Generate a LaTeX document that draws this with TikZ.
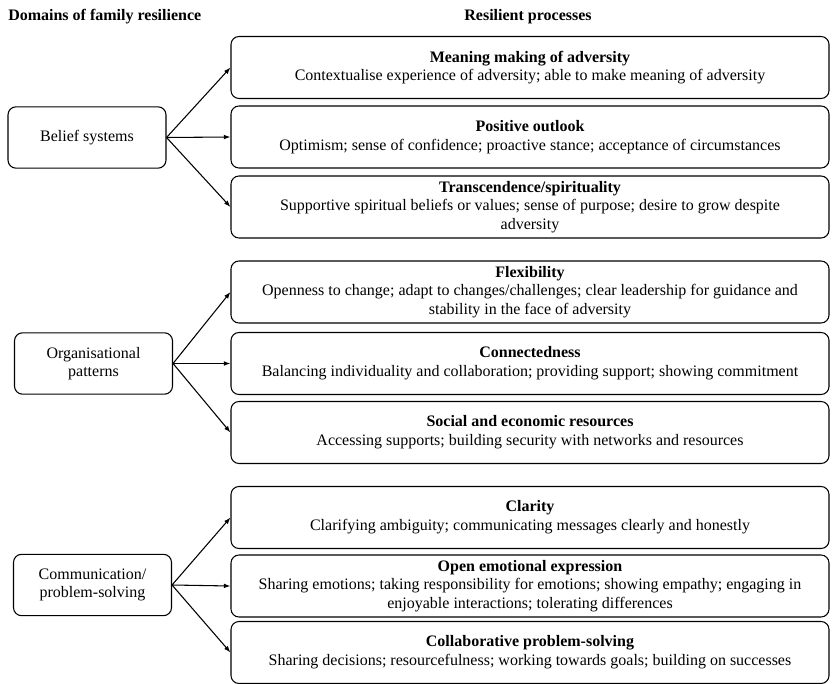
\documentclass[tikz,border=0pt]{standalone}
\usepackage{fontspec}
\setmainfont{Liberation Serif}
\usetikzlibrary{arrows.meta}

\begin{document}
\begin{tikzpicture}[x=0.75pt,y=-0.75pt,
  every node/.style={font=\fontsize{12}{14}\selectfont},
  domainbox/.style={draw,rounded corners=6pt,line width=0.8pt,align=center,
    minimum width=118.5pt,minimum height=46pt},
  processbox/.style={draw,rounded corners=6pt,line width=0.8pt,align=center,
    minimum width=448.5pt,minimum height=46.5pt,inner sep=2pt},
  link/.style={-{Latex[length=5pt,width=3.6pt]},line width=0.8pt}]

  \useasboundingbox (0,0) rectangle (832,684);

  % HEADINGS
  \node[anchor=west,inner sep=0pt] (domhead) at (8,17) {\textbf{Domains of family resilience}};
  \node[inner sep=0pt] (prochead) at (528,17) {\textbf{Resilient processes}};

  % BELIEF SYSTEMS
  \node[domainbox] (Belief) at (87,137.5) {Belief systems};
  \node[processbox] (Meaning) at (530,67.5) {\textbf{Meaning making of adversity}\\
    Contextualise experience of adversity; able to make meaning of adversity};
  \node[processbox] (Outlook) at (530,137) {\textbf{Positive outlook}\\
    Optimism; sense of confidence; proactive stance; acceptance of circumstances};
  \node[processbox] (Transc) at (530,207) {\textbf{Transcendence/spirituality}\\
    Supportive spiritual beliefs or values; sense of purpose; desire to grow despite\\
    adversity};

  % ORGANISATIONAL PATTERNS
  \node[domainbox] (Organ) at (93.5,363.5) {Organisational\\patterns};
  \node[processbox] (Flex) at (530,292) {\textbf{Flexibility}\\
    Openness to change; adapt to changes/challenges; clear leadership for guidance and\\
    stability in the face of adversity};
  \node[processbox] (Connect) at (530,363.5) {\textbf{Connectedness}\\
    Balancing individuality and collaboration; providing support; showing commitment};
  \node[processbox] (Resour) at (530,432.5) {\textbf{Social and economic resources}\\
    Accessing supports; building security with networks and resources};

  % COMMUNICATION / PROBLEM-SOLVING
  \node[domainbox] (Commun) at (92.5,585) {Communication/\\problem-solving};
  \node[processbox] (Clarity) at (530,517.5) {\textbf{Clarity}\\
    Clarifying ambiguity; communicating messages clearly and honestly};
  \node[processbox] (Emotion) at (530,586) {\textbf{Open emotional expression}\\
    Sharing emotions; taking responsibility for emotions; showing empathy; engaging in\\
    enjoyable interactions; tolerating differences};
  \node[processbox] (Collab) at (530,652.5) {\textbf{Collaborative problem-solving}\\
    Sharing decisions; resourcefulness; working towards goals; building on successes};

  \draw[link] (Belief.east) -- (Meaning.west);
  \draw[link] (Belief.east) -- (Outlook.west);
  \draw[link] (Belief.east) -- (Transc.west);
  \draw[link] (Organ.east) -- (Flex.west);
  \draw[link] (Organ.east) -- (Connect.west);
  \draw[link] (Organ.east) -- (Resour.west);
  \draw[link] (Commun.east) -- (Clarity.west);
  \draw[link] (Commun.east) -- (Emotion.west);
  \draw[link] (Commun.east) -- (Collab.west);
\end{tikzpicture}
\end{document}
